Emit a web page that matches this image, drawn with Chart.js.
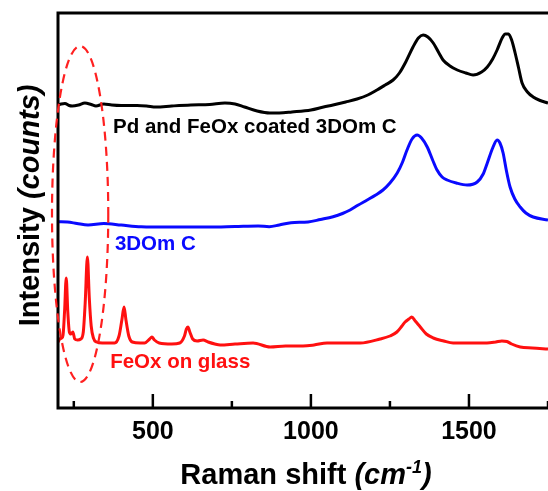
<!DOCTYPE html>
<html>
<head>
    <title>Raman spectra</title>
    <script src="https://cdn.jsdelivr.net/npm/chart.js@4/dist/chart.umd.min.js"></script>
    <style>
        body { margin: 0; background: #fff; }
    </style>
</head>
<body>
    <canvas id="myChart" width="548" height="491"></canvas>
    <script>
        // Raman shift (cm-1) and intensity (counts, offset per trace)
        var shiftPd = [200, 210, 222, 235, 245, 265, 285, 305, 320, 345, 370, 400, 450, 480, 510, 560, 620, 680, 728, 760, 790, 830, 870, 900, 940, 1000, 1040, 1070, 1110, 1146, 1180, 1209, 1235, 1260, 1280, 1300, 1323, 1340, 1355, 1370, 1387, 1405, 1418, 1440, 1463, 1490, 1513, 1540, 1558, 1575, 1589, 1605, 1615, 1625, 1635, 1646, 1657, 1668, 1685, 1703, 1725, 1750];
        var countsPd = [3030, 3040, 3045, 3025, 3020, 3030, 3050, 3035, 3020, 3040, 3030, 3025, 3025, 3020, 3010, 3020, 3030, 3035, 3050, 3040, 3010, 2970, 2950, 2950, 2960, 2980, 3010, 3030, 3060, 3090, 3130, 3180, 3230, 3280, 3350, 3460, 3610, 3700, 3730, 3710, 3650, 3550, 3480, 3420, 3380, 3350, 3330, 3360, 3410, 3490, 3580, 3700, 3740, 3740, 3680, 3550, 3400, 3250, 3160, 3110, 3075, 3050];

        var shift3DOm = [200, 230, 260, 295, 345, 400, 463, 550, 675, 760, 833, 868, 900, 937, 991, 1030, 1070, 1100, 1124, 1150, 1178, 1205, 1228, 1250, 1273, 1290, 1304, 1320, 1336, 1350, 1368, 1385, 1399, 1415, 1431, 1460, 1494, 1526, 1545, 1558, 1575, 1589, 1598, 1608, 1618, 1630, 1645, 1662, 1680, 1703, 1750];
        var counts3DOm = [1863, 1860, 1845, 1830, 1845, 1830, 1813, 1810, 1810, 1815, 1820, 1813, 1830, 1853, 1860, 1885, 1913, 1945, 1980, 2030, 2080, 2130, 2180, 2250, 2350, 2460, 2580, 2690, 2730, 2700, 2610, 2480, 2380, 2310, 2280, 2250, 2230, 2260, 2340, 2450, 2600, 2680, 2650, 2550, 2380, 2210, 2090, 2010, 1950, 1910, 1880];

        var shiftFeOx = [200, 206, 212, 216, 221, 226, 231, 236, 241, 247, 253, 262, 272, 280, 286, 293, 299, 305, 312, 322, 340, 379, 393, 402, 409, 415, 424, 435, 460, 474, 490, 497, 505, 520, 560, 585, 600, 606, 611, 617, 626, 640, 659, 675, 696, 713, 760, 817, 871, 920, 975, 1010, 1051, 1100, 1156, 1219, 1250, 1272, 1288, 1298, 1310, 1319, 1330, 1346, 1365, 1387, 1420, 1450, 1500, 1557, 1585, 1604, 1620, 1635, 1662, 1700, 1750];
        var countsFeOx = [660, 690, 700, 730, 980, 1300, 960, 760, 740, 760, 690, 680, 690, 760, 1050, 1510, 1100, 820, 700, 660, 650, 650, 720, 880, 1010, 880, 720, 660, 650, 650, 690, 710, 680, 650, 640, 650, 720, 790, 810, 760, 690, 670, 680, 660, 640, 630, 640, 650, 610, 620, 620, 630, 650, 650, 650, 690, 720, 760, 820, 860, 890, 910, 870, 810, 740, 700, 670, 650, 650, 650, 660, 670, 665, 640, 610, 600, 590];

        var tickValues = [250, 500, 750, 1000, 1250, 1500, 1750];
        var labelTicks = [500, 1000, 1500];

        // trace names and where they sit (shift, counts at text baseline)
        var traceNames = ["Pd and FeOx coated 3DOm C", "3DOm C", "FeOx on glass"];
        var traceColors = ["#000000", "#0a0aff", "#ff1010"];
        var nameAt = [[374, 2750], [380, 1580], [365, 400]];

        var FONT = "'Liberation Sans', Arial, sans-serif";

        function toPoints(xs, ys) {
            return xs.map(function (x, i) { return { x: x, y: ys[i] }; });
        }

        function drawRich(ctx, parts, cx, cy) {
            var total = 0;
            parts.forEach(function (p) {
                ctx.font = p.font;
                p.w = ctx.measureText(p.text).width;
                total += p.w;
            });
            var x = cx - total / 2;
            parts.forEach(function (p) {
                ctx.font = p.font;
                ctx.fillText(p.text, x, cy - (p.rise || 0));
                x += p.w;
            });
        }

        var decorations = {
            id: 'decorations',
            afterDraw: function (chart) {
                var ctx = chart.ctx;
                var area = chart.chartArea;
                var xs = chart.scales.x;
                var ys = chart.scales.y;
                ctx.save();

                // frame: left, top, bottom (right side is cut off in the figure)
                ctx.strokeStyle = '#000';
                ctx.lineWidth = 3;
                ctx.beginPath();
                ctx.moveTo(area.right + 2, area.top);
                ctx.lineTo(area.left, area.top);
                ctx.lineTo(area.left, area.bottom);
                ctx.lineTo(area.right + 2, area.bottom);
                ctx.stroke();

                // inward ticks
                ctx.lineWidth = 2.5;
                tickValues.forEach(function (v) {
                    var px = xs.getPixelForValue(v);
                    var len = labelTicks.indexOf(v) >= 0 ? 14 : 7;
                    ctx.beginPath();
                    ctx.moveTo(px, area.bottom);
                    ctx.lineTo(px, area.bottom - len);
                    ctx.stroke();
                });

                // trace names
                ctx.font = 'bold 20.5px ' + FONT;
                ctx.textBaseline = 'alphabetic';
                ctx.textAlign = 'left';
                traceNames.forEach(function (name, i) {
                    ctx.fillStyle = traceColors[i];
                    ctx.fillText(name, xs.getPixelForValue(nameAt[i][0]), ys.getPixelForValue(nameAt[i][1]));
                });

                // dashed ellipse around the FeOx low-shift peaks
                var cx = xs.getPixelForValue(270);
                var cy = ys.getPixelForValue(1940);
                var rx = xs.getPixelForValue(359) - cx;
                var ry = cy - ys.getPixelForValue(3620);
                ctx.strokeStyle = '#ff2020';
                ctx.lineWidth = 2.2;
                ctx.setLineDash([9, 6]);
                ctx.beginPath();
                ctx.ellipse(cx, cy, rx, ry, 0, 0, Math.PI * 2);
                ctx.stroke();
                ctx.setLineDash([]);

                // axis titles
                ctx.fillStyle = '#000';
                ctx.textAlign = 'left';
                drawRich(ctx, [
                    { text: 'Raman shift ', font: 'bold 29px ' + FONT },
                    { text: '(cm', font: 'italic bold 29px ' + FONT },
                    { text: '-1', font: 'italic bold 18px ' + FONT, rise: 11 },
                    { text: ')', font: 'italic bold 29px ' + FONT }
                ], (area.left + area.right) / 2 + 3, 484);

                ctx.translate(39, (area.top + area.bottom) / 2 - 5);
                ctx.rotate(-Math.PI / 2);
                drawRich(ctx, [
                    { text: 'Intensity ', font: 'bold 29px ' + FONT },
                    { text: '(counts)', font: 'italic bold 29px ' + FONT }
                ], 0, 0);

                ctx.restore();
            }
        };

        var data = {
            datasets: [
                { label: traceNames[0], data: toPoints(shiftPd, countsPd), borderColor: traceColors[0] },
                { label: traceNames[1], data: toPoints(shift3DOm, counts3DOm), borderColor: traceColors[1] },
                { label: traceNames[2], data: toPoints(shiftFeOx, countsFeOx), borderColor: traceColors[2] }
            ]
        };

        var options = {
            responsive: false,
            animation: false,
            layout: { padding: { left: 58, top: 13, right: 0, bottom: 0 } },
            elements: {
                point: { radius: 0 },
                line: { borderWidth: 3, cubicInterpolationMode: 'monotone' }
            },
            plugins: {
                legend: { display: false },
                tooltip: { enabled: false }
            },
            scales: {
                x: {
                    type: 'linear',
                    min: 200,
                    max: 1750,
                    afterBuildTicks: function (scale) {
                        scale.ticks = tickValues.map(function (v) { return { value: v }; });
                    },
                    afterFit: function (scale) {
                        scale.height = 83;
                        scale.paddingLeft = 0;
                        scale.paddingRight = 0;
                    },
                    grid: { display: false, drawTicks: false },
                    border: { display: false },
                    ticks: {
                        padding: 9,
                        maxRotation: 0,
                        autoSkip: false,
                        color: '#000',
                        font: { family: FONT, size: 25, weight: 'bold' },
                        callback: function (v) { return labelTicks.indexOf(v) >= 0 ? v : ''; }
                    }
                },
                y: {
                    display: false,
                    min: 0,
                    max: 3950
                }
            }
        };

        var ctx = document.getElementById('myChart').getContext('2d');
        var myChart = new Chart(ctx, {
            type: 'line',
            data: data,
            options: options,
            plugins: [decorations]
        });
    </script>
</body>
</html>
